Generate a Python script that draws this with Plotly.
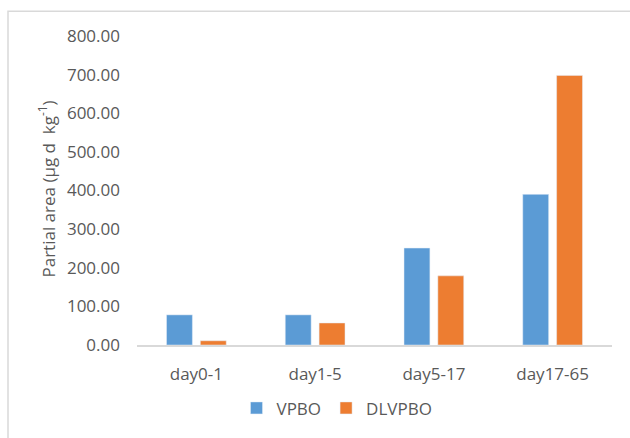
import plotly.graph_objects as go

categories = ["day0-1", "day1-5", "day5-17", "day17-65"]
vpbo = [78, 78, 251, 390]
dlvpbo = [11, 57, 179, 698]
y_ticks = [0, 100, 200, 300, 400, 500, 600, 700, 800]

W, H = 630, 438
L, R, T, B = 137, 18, 36, 90
pw, ph = W - L - R, H - T - B


def px_x(p):
    return (p - L) / pw


def px_y(p):
    return (H - B - p) / ph


font_family = "Open Sans, Liberation Sans, sans-serif"
text_color = "#595959"

fig = go.Figure()
fig.add_trace(go.Bar(name="VPBO", x=categories, y=vpbo, marker_color="#5B9BD5"))
fig.add_trace(go.Bar(name="DLVPBO", x=categories, y=dlvpbo, marker_color="#ED7D31"))

fig.update_layout(
    width=W,
    height=H,
    margin=dict(l=L, r=R, t=T, b=B, pad=0),
    paper_bgcolor="white",
    plot_bgcolor="white",
    barmode="group",
    bargap=0.43,
    bargroupgap=0.235,
    font=dict(family=font_family, size=17, color=text_color),
    showlegend=True,
    legend=dict(
        orientation="h",
        x=px_x(337),
        xanchor="center",
        y=px_y(412),
        yanchor="middle",
        font=dict(size=17, color=text_color),
        itemwidth=30,
        traceorder="normal",
    ),
    xaxis=dict(
        showgrid=False,
        showline=True,
        linecolor="#d9d9d9",
        linewidth=1.5,
        ticks="",
        ticklabelstandoff=13,
        tickfont=dict(size=17, color=text_color),
    ),
    yaxis=dict(
        range=[0, 800],
        tickvals=y_ticks,
        ticktext=[f"{v:.2f}" for v in y_ticks],
        showgrid=False,
        zeroline=False,
        showline=False,
        ticks="",
        ticklabelstandoff=16,
        tickfont=dict(size=17, color=text_color),
    ),
)

# Y axis title with superscript unit
fig.add_annotation(
    text="Partial area (µg d  kg<sup>-1</sup>)",
    xref="paper",
    yref="paper",
    x=px_x(47),
    y=px_y(191),
    xanchor="center",
    yanchor="middle",
    textangle=-90,
    showarrow=False,
    font=dict(size=17, color=text_color, family=font_family),
)

# Chart-area frame
fig.add_shape(
    type="rect",
    xref="paper",
    yref="paper",
    x0=px_x(8),
    x1=px_x(660),
    y0=px_y(470),
    y1=px_y(11),
    line=dict(color="#d9d9d9", width=1.5),
    fillcolor="rgba(0,0,0,0)",
    layer="below",
)

fig.write_html("out.html")
